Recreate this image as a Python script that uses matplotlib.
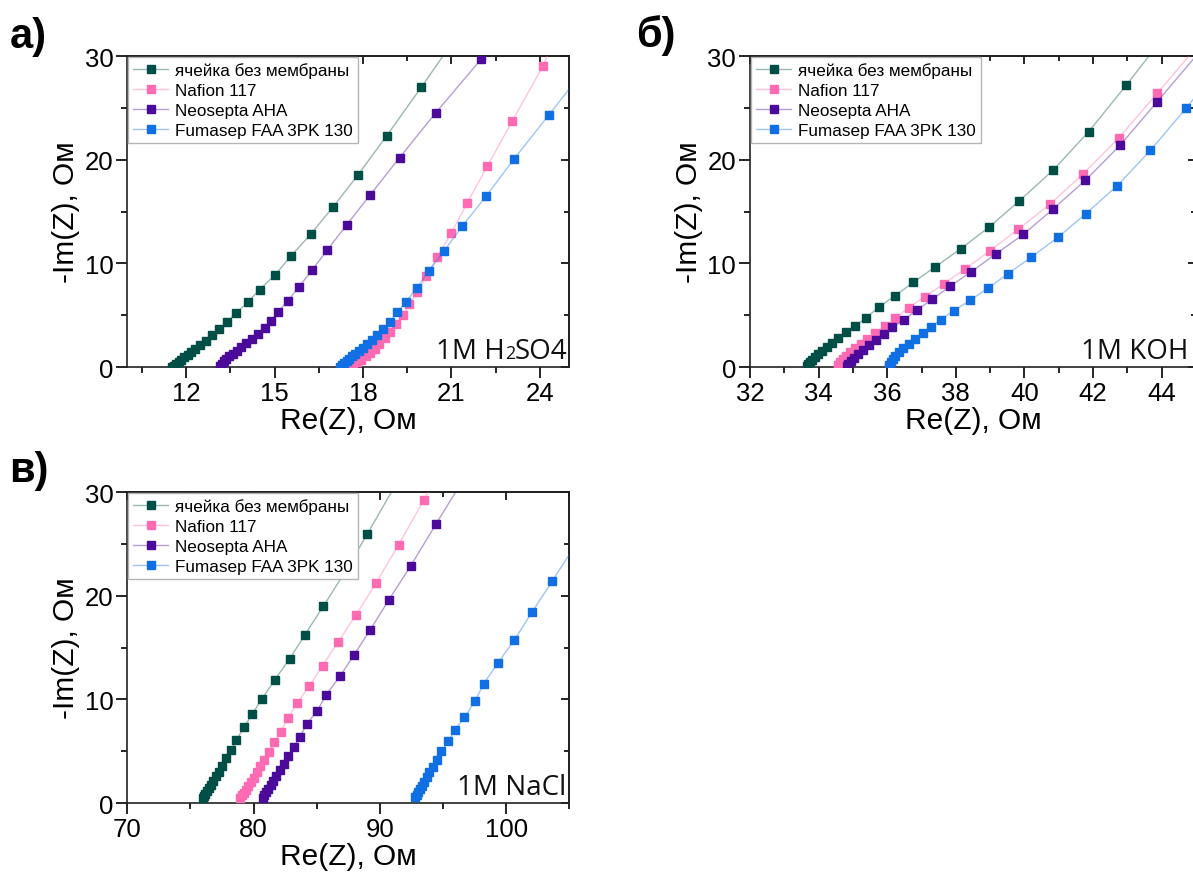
import numpy as np
import matplotlib
matplotlib.use('Agg')
import matplotlib.pyplot as plt
from matplotlib.ticker import MultipleLocator, NullFormatter
from matplotlib.colors import to_rgba
from matplotlib.offsetbox import TextArea, HPacker, AnchoredOffsetbox

plt.rcParams['font.family'] = ['Liberation Sans', 'DejaVu Sans']

## series names and colours
names = ['ячейка без мембраны', 'Nafion 117', 'Neosepta AHA', 'Fumasep FAA 3PK 130']
colors = ['#004f46', '#ff6bb3', '#4b0a99', '#0f6fe3']

## а) 1M H2SO4
a_cell_x = [11.52, 11.57, 11.66, 11.74, 11.83, 11.93, 12.05, 12.16, 12.31, 12.48, 12.67, 12.89, 13.12,
            13.38, 13.70, 14.08, 14.49, 15.02, 15.55, 16.22, 16.97, 17.82, 18.80, 19.98, 21.2]
a_cell_y = [0.0, 0.06, 0.29, 0.48, 0.71, 0.93, 1.16, 1.41, 1.74, 2.12, 2.54, 3.05, 3.63,
            4.37, 5.21, 6.24, 7.46, 8.9, 10.7, 12.8, 15.4, 18.5, 22.3, 27.0, 32.0]
a_nafion_x = [17.56, 17.67, 17.81, 17.94, 18.09, 18.24, 18.39, 18.55, 18.73, 18.91, 19.12, 19.35, 19.57,
              19.84, 20.15, 20.52, 20.99, 21.54, 22.22, 23.06, 24.11, 24.5]
a_nafion_y = [0.03, 0.22, 0.45, 0.71, 1.03, 1.35, 1.74, 2.22, 2.77, 3.41, 4.15, 5.02, 6.08,
              7.2, 8.74, 10.6, 12.9, 15.85, 19.4, 23.7, 29.07, 31.5]
a_neo_x = [13.16, 13.20, 13.27, 13.36, 13.46, 13.59, 13.72, 13.87, 14.04, 14.23, 14.43, 14.66, 14.89,
           15.13, 15.45, 15.83, 16.27, 16.79, 17.44, 18.24, 19.24, 20.46, 22.01, 23.7]
a_neo_y = [0.07, 0.32, 0.55, 0.77, 1.03, 1.29, 1.58, 1.90, 2.29, 2.70, 3.18, 3.73, 4.47,
           5.34, 6.4, 7.75, 9.35, 11.3, 13.7, 16.6, 20.2, 24.5, 29.7, 35.5]
a_fuma_x = [17.22, 17.29, 17.36, 17.44, 17.53, 17.63, 17.74, 17.86, 17.99, 18.12, 18.29, 18.46, 18.67,
            18.90, 19.16, 19.46, 19.82, 20.23, 20.75, 21.37, 22.18, 23.12, 24.30, 25.6]
a_fuma_y = [0.03, 0.19, 0.39, 0.58, 0.80, 1.03, 1.29, 1.58, 1.86, 2.22, 2.64, 3.09, 3.67,
            4.37, 5.27, 6.30, 7.59, 9.27, 11.2, 13.6, 16.5, 20.05, 24.3, 29.0]

## б) 1M KOH
b_cell_x = [33.65, 33.69, 33.75, 33.82, 33.90, 33.99, 34.11, 34.24, 34.38, 34.57, 34.79, 35.06, 35.38,
            35.76, 36.23, 36.76, 37.40, 38.14, 38.97, 39.84, 40.84, 41.87, 42.97, 44.1]
b_cell_y = [0.06, 0.26, 0.48, 0.71, 0.96, 1.25, 1.54, 1.90, 2.32, 2.77, 3.35, 3.99, 4.73,
            5.80, 6.88, 8.17, 9.67, 11.4, 13.5, 16.0, 19.0, 22.7, 27.2, 32.0]
b_nafion_x = [34.55, 34.57, 34.62, 34.70, 34.80, 34.92, 35.06, 35.23, 35.42, 35.64, 35.92, 36.24, 36.62,
              37.09, 37.64, 38.27, 38.99, 39.82, 40.74, 41.70, 42.75, 43.87, 45.1]
b_nafion_y = [0.05, 0.22, 0.51, 0.77, 1.09, 1.41, 1.80, 2.22, 2.70, 3.28, 3.99, 4.70, 5.73,
              6.79, 8.0, 9.48, 11.2, 13.3, 15.7, 18.6, 22.1, 26.4, 31.2]
b_neo_x = [34.84, 34.86, 34.93, 35.03, 35.16, 35.30, 35.48, 35.67, 35.91, 36.15, 36.49, 36.86, 37.31,
           37.84, 38.45, 39.16, 39.97, 40.82, 41.77, 42.79, 43.87, 45.1]
b_neo_y = [0.06, 0.26, 0.58, 0.90, 1.25, 1.67, 2.12, 2.64, 3.18, 3.83, 4.56, 5.50, 6.52,
           7.81, 9.19, 10.9, 12.8, 15.2, 18.0, 21.4, 25.6, 30.4]
b_fuma_x = [36.04, 36.06, 36.10, 36.16, 36.24, 36.34, 36.47, 36.62, 36.81, 37.05, 37.27, 37.56, 37.94,
            38.42, 38.94, 39.52, 40.20, 40.97, 41.79, 42.71, 43.67, 44.72, 45.8]
b_fuma_y = [0.0, 0.19, 0.45, 0.77, 1.06, 1.41, 1.80, 2.22, 2.70, 3.28, 3.84, 4.58, 5.44,
            6.44, 7.62, 9.0, 10.6, 12.5, 14.8, 17.5, 20.9, 25.0, 29.5]

## в) 1M NaCl
c_cell_x = [76.00, 76.08, 76.19, 76.32, 76.45, 76.64, 76.82, 77.03, 77.27, 77.50, 77.82, 78.25, 78.64,
            79.24, 79.90, 80.66, 81.68, 82.85, 84.05, 85.53, 87.3, 89.02, 91.2]
c_cell_y = [0.51, 0.70, 0.90, 1.16, 1.45, 1.77, 2.15, 2.57, 3.02, 3.60, 4.31, 5.14, 6.11,
            7.30, 8.59, 10.03, 11.9, 13.9, 16.2, 19.0, 22.4, 25.99, 30.6]
c_nafion_x = [78.96, 79.08, 79.24, 79.40, 79.59, 79.79, 80.03, 80.27, 80.54, 80.85, 81.22, 81.64, 82.14,
              82.72, 83.46, 84.41, 85.47, 86.67, 88.09, 89.68, 91.48, 93.47, 95.6]
c_nafion_y = [0.51, 0.77, 0.99, 1.29, 1.61, 1.99, 2.44, 2.96, 3.54, 4.18, 4.95, 5.85, 6.88,
              8.17, 9.65, 11.3, 13.25, 15.5, 18.1, 21.2, 24.9, 29.2, 33.8]
c_neo_x = [80.74, 80.85, 80.98, 81.14, 81.35, 81.56, 81.80, 82.06, 82.38, 82.75, 83.17, 83.64, 84.22,
           85.05, 85.76, 86.85, 87.96, 89.23, 90.70, 92.45, 94.44, 96.6]
c_neo_y = [0.51, 0.77, 1.03, 1.35, 1.74, 2.15, 2.64, 3.18, 3.76, 4.50, 5.37, 6.34, 7.62,
           8.92, 10.46, 12.25, 14.3, 16.7, 19.57, 22.9, 26.9, 31.2]
c_fuma_x = [92.80, 92.91, 93.04, 93.18, 93.33, 93.52, 93.70, 93.91, 94.17, 94.49, 94.88, 95.41, 95.91,
            96.70, 97.54, 98.22, 99.34, 100.63, 102.04, 103.64, 105.5]
c_fuma_y = [0.55, 0.80, 1.06, 1.35, 1.67, 2.06, 2.48, 2.96, 3.47, 4.15, 4.99, 5.95, 7.04,
            8.26, 9.84, 11.5, 13.5, 15.7, 18.4, 21.4, 24.9]

## electrolyte labels: (text, small?) pieces so that the "2" of H2SO4 is small
elec_a = [('1M H', False), ('2', True), ('SO4', False)]
elec_b = [('1M KOH', False)]
elec_c = [('1M NaCl', False)]

panels = [
    # label, electrolyte, xlim, major, minor, data, axes rect, text x
    ('а)', elec_a, (10, 25), 3, 1.5,
     [(a_cell_x, a_cell_y), (a_nafion_x, a_nafion_y), (a_neo_x, a_neo_y), (a_fuma_x, a_fuma_y)],
     [0.1067, 0.5813, 0.3705, 0.3538], 0.996),
    ('б)', elec_b, (32, 45), 2, 1,
     [(b_cell_x, b_cell_y), (b_nafion_x, b_nafion_y), (b_neo_x, b_neo_y), (b_fuma_x, b_fuma_y)],
     [0.6287, 0.5813, 0.3738, 0.3538], 0.983),
    ('в)', elec_c, (70, 105), 10, 5,
     [(c_cell_x, c_cell_y), (c_nafion_x, c_nafion_y), (c_neo_x, c_neo_y), (c_fuma_x, c_fuma_y)],
     [0.1067, 0.0853, 0.3705, 0.3538], 0.993),
]
label_pos = [(0.008, 0.945), (0.533, 0.946), (0.008, 0.452)]

fig = plt.figure(figsize=(11.93, 8.79), dpi=100)

for (lab, elec, xlim, maj, mnr, data, rect, tx), lp in zip(panels, label_pos):
    ax = fig.add_axes(rect)
    for (xs, ys), c, n in zip(data, colors, names):
        # light connecting line, solid square markers
        ax.plot(xs, ys, '-s', color=to_rgba(c, 0.4), lw=1.0, ms=5.5,
                markerfacecolor=c, markeredgecolor=c, label=n, zorder=3)
    ax.set_xlim(*xlim)
    ax.set_ylim(0, 30)
    ax.xaxis.set_major_locator(MultipleLocator(maj))
    ax.xaxis.set_minor_locator(MultipleLocator(mnr))
    ax.yaxis.set_major_locator(MultipleLocator(10))
    ax.yaxis.set_minor_locator(MultipleLocator(5))
    ax.tick_params(which='major', direction='out', length=8, width=1.2, labelsize=18.5, pad=2)
    ax.tick_params(which='minor', direction='out', length=4.5, width=1.2)
    for s in ax.spines.values():
        s.set_linewidth(1.2)
        s.set_color('#222222')

    # inward ticks on top and right
    top = ax.secondary_xaxis('top')
    top.xaxis.set_major_locator(MultipleLocator(maj))
    top.xaxis.set_minor_locator(MultipleLocator(mnr))
    top.xaxis.set_major_formatter(NullFormatter())
    top.tick_params(which='major', direction='in', length=6, width=1.2)
    top.tick_params(which='minor', direction='in', length=3.5, width=1.2)
    top.spines['top'].set_linewidth(1.2)
    right = ax.secondary_yaxis('right')
    right.yaxis.set_major_locator(MultipleLocator(10))
    right.yaxis.set_minor_locator(MultipleLocator(5))
    right.yaxis.set_major_formatter(NullFormatter())
    right.tick_params(which='major', direction='in', length=6, width=1.2)
    right.tick_params(which='minor', direction='in', length=3.5, width=1.2)
    right.spines['right'].set_linewidth(1.2)

    ax.set_xlabel('Re(Z), Ом', fontsize=21.5, labelpad=1)
    ax.set_ylabel('-Im(Z), Ом', fontsize=21.5, labelpad=3)

    leg = ax.legend(loc='upper left', fontsize=12.3, frameon=True, fancybox=False,
                    borderaxespad=0.05, borderpad=0.3, labelspacing=0.3,
                    handlelength=2.05, handletextpad=0.4, framealpha=1)
    leg.get_frame().set_edgecolor('#b5b5b5')
    leg.get_frame().set_linewidth(1.0)
    leg.set_zorder(5)

    pieces = [TextArea(t, textprops=dict(fontsize=13 if small else 20, color='#111111',
                                         family=['Open Sans', 'DejaVu Sans']))
              for t, small in elec]
    box = HPacker(children=pieces, align='baseline', pad=0, sep=0)
    anch = AnchoredOffsetbox(loc='lower right', child=box, pad=0, borderpad=0, frameon=False,
                             bbox_to_anchor=(tx, 0.006), bbox_transform=ax.transAxes)
    anch.set_zorder(6)
    ax.add_artist(anch)

    fig.text(lp[0], lp[1], lab, fontsize=30, fontweight='bold', ha='left', va='baseline')

fig.savefig('out.png', dpi=100)
